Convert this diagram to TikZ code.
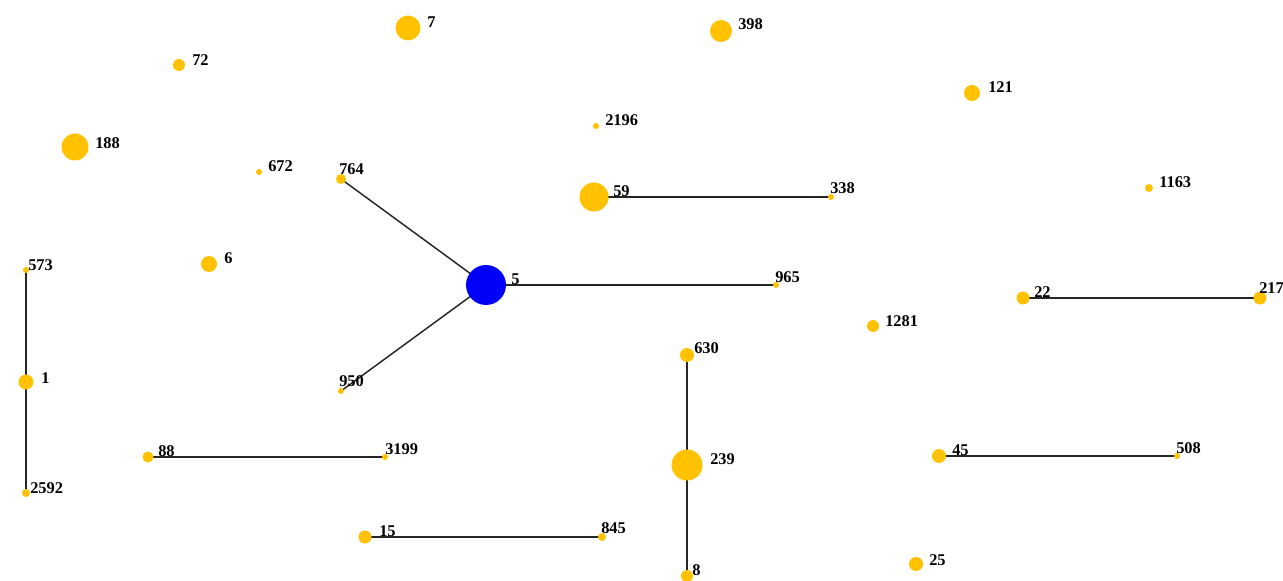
\documentclass[tikz,border=0pt]{standalone}
\usepackage{fontspec}
\setmainfont{Liberation Serif}
\usetikzlibrary{backgrounds}
\definecolor{yel}{RGB}{255,193,0}
\definecolor{blu}{RGB}{0,0,250}
\tikzset{
  hnode/.style={circle, fill=yel, draw=none, inner sep=0pt, minimum size=#1*1.5pt},
  bnode/.style={circle, fill=blu, draw=none, inner sep=0pt, minimum size=#1*1.5pt},
  lab/.style={anchor=west, inner sep=0pt, font=\fontsize{12.3}{13}\selectfont\bfseries},
  link/.style={draw=black!85, line width=1.1pt}
}
\begin{document}
\begin{tikzpicture}[x=0.75pt,y=-0.75pt]
\useasboundingbox (0,0) rectangle (1283,581);
% nodes
\node[hnode=12.5] (n7) at (408,28) {};
\node[hnode=6] (n72) at (179,65) {};
\node[hnode=13.5] (n188) at (75,147) {};
\node[hnode=3] (n672) at (259,172) {};
\node[hnode=5] (n764) at (341,179) {};
\node[hnode=8] (n6) at (209,264) {};
\node[hnode=3] (n573) at (26,270) {};
\node[hnode=11] (n398) at (721,31) {};
\node[hnode=3] (n2196) at (596,126) {};
\node[hnode=14.5] (n59) at (594,197) {};
\node[hnode=3] (n338) at (831,197) {};
\node[bnode=20] (n5) at (486,285) {};
\node[hnode=3] (n965) at (776,285) {};
\node[hnode=8] (n121) at (972,93) {};
\node[hnode=4] (n1163) at (1149,188) {};
\node[hnode=6.5] (n22) at (1023,298) {};
\node[hnode=6.5] (n217) at (1260,298) {};
\node[hnode=6] (n1281) at (873,326) {};
\node[hnode=7.5] (n1) at (26,382) {};
\node[hnode=3] (n950) at (341,391) {};
\node[hnode=5.5] (n88) at (148,457) {};
\node[hnode=3] (n3199) at (385,457) {};
\node[hnode=4] (n2592) at (26,493) {};
\node[hnode=6.5] (n15) at (365,537) {};
\node[hnode=4] (n845) at (602,537) {};
\node[hnode=7] (n630) at (687,355) {};
\node[hnode=15.5] (n239) at (687,465) {};
\node[hnode=6] (n8) at (687,576) {};
\node[hnode=7] (n45) at (939,456) {};
\node[hnode=3] (n508) at (1177,456) {};
\node[hnode=7] (n25) at (916,564) {};
% labels
\node[lab] (l7) at (427,22) {7};
\node[lab] (l72) at (192,60) {72};
\node[lab] (l188) at (95,143) {188};
\node[lab] (l672) at (268,166) {672};
\node[lab] (l764) at (339,169) {764};
\node[lab] (l6) at (224,258) {6};
\node[lab] (l573) at (28,265) {573};
\node[lab] (l398) at (738,24) {398};
\node[lab] (l2196) at (605,120) {2196};
\node[lab] (l59) at (613,191) {59};
\node[lab] (l338) at (830,188) {338};
\node[lab] (l5) at (511,279) {5};
\node[lab] (l965) at (775,277) {965};
\node[lab] (l121) at (988,87) {121};
\node[lab] (l1163) at (1159,182) {1163};
\node[lab] (l22) at (1034,292) {22};
\node[lab] (l217) at (1259,288) {217};
\node[lab] (l1281) at (885,321) {1281};
\node[lab] (l1) at (41,378) {1};
\node[lab] (l950) at (339,381) {950};
\node[lab] (l88) at (158,451) {88};
\node[lab] (l3199) at (385,449) {3199};
\node[lab] (l2592) at (30,488) {2592};
\node[lab] (l15) at (379,531) {15};
\node[lab] (l845) at (601,528) {845};
\node[lab] (l630) at (694,348) {630};
\node[lab] (l239) at (710,459) {239};
\node[lab] (l8) at (692,570) {8};
\node[lab] (l45) at (952,450) {45};
\node[lab] (l508) at (1176,448) {508};
\node[lab] (l25) at (929,560) {25};
% edges
\begin{pgfonlayer}{background}
\draw[link] (n573.center) -- (n1.center) -- (n2592.center);
\draw[link] (n764.center) -- (n5.center);
\draw[link] (n950.center) -- (n5.center);
\draw[link] (n5.center) -- (n965.center);
\draw[link] (n59.center) -- (n338.center);
\draw[link] (n22.center) -- (n217.center);
\draw[link] (n88.center) -- (n3199.center);
\draw[link] (n15.center) -- (n845.center);
\draw[link] (n630.center) -- (n239.center) -- (n8.center);
\draw[link] (n45.center) -- (n508.center);
\end{pgfonlayer}
\end{tikzpicture}
\end{document}
